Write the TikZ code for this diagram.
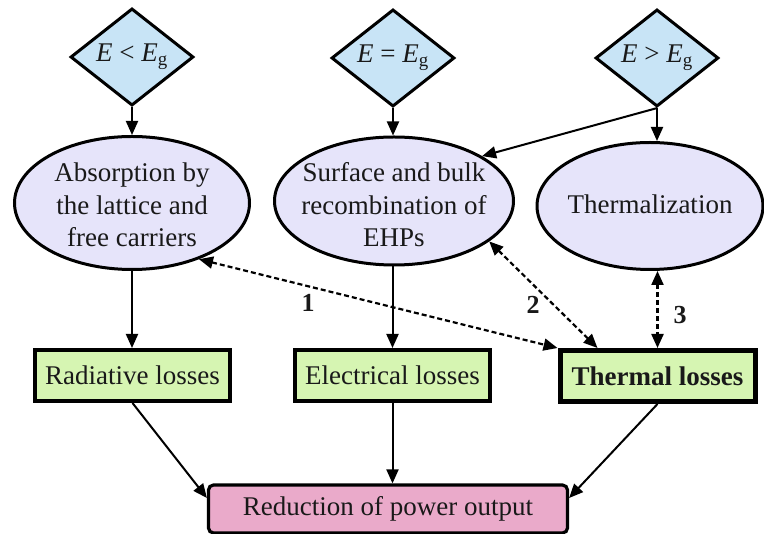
\documentclass[tikz,border=0pt]{standalone}
\usepackage{fontspec}
\setmainfont{Liberation Serif}
\usetikzlibrary{shapes.geometric,arrows.meta,calc}
\definecolor{dfill}{RGB}{200,228,246}
\definecolor{efill}{RGB}{230,228,250}
\definecolor{bfill}{RGB}{214,245,178}
\definecolor{rfill}{RGB}{234,170,202}
\definecolor{txt}{RGB}{25,25,25}
\begin{document}
\begin{tikzpicture}[x=1pt,y=-1pt,
  font=\fontsize{27pt}{32.5pt}\selectfont, text=txt,
  dia/.style={diamond, draw, line width=3pt, fill=dfill, minimum width=123pt, minimum height=87pt, inner sep=0pt},
  ell/.style={ellipse, draw, line width=3pt, fill=efill, inner sep=0pt},
  etext/.style={align=center, inner sep=0pt},
  box/.style={rectangle, draw, line width=4pt, fill=bfill, minimum width=195pt, minimum height=51pt, inner sep=0pt},
  redbox/.style={rectangle, draw, line width=3.2pt, rounded corners=5pt, fill=rfill, minimum width=359pt, minimum height=48pt, inner sep=0pt},
  arr/.style={-{Triangle[length=14pt,width=12pt]}, line width=2pt},
  darr/.style={{Triangle[length=14pt,width=12pt]}-{Triangle[length=14pt,width=12pt]}, line width=2.2pt, dash pattern=on 5pt off 3pt},
  num/.style={font=\fontsize{26pt}{26pt}\selectfont\bfseries}]
\useasboundingbox (0,0) rectangle (764,534);
% diamonds
\node[dia] (d1) at (132,57) {\textit{E} < \textit{E}\textsubscript{g}};
\node[dia] (d2) at (393,58) {\textit{E} = \textit{E}\textsubscript{g}};
\node[dia] (d3) at (657,58) {\textit{E} > \textit{E}\textsubscript{g}};
% ellipses
\node[ell, minimum width=235pt, minimum height=133pt] (e1) at (132,203) {};
\node[etext] (t1) at (132,205) {Absorption by\\the lattice and\\free carriers};
\node[ell, minimum width=239pt, minimum height=128pt] (e2) at (394,201) {};
\node[etext] (t2) at (394,205) {Surface and bulk\\recombination of\\EHPs};
\node[ell, minimum width=226pt, minimum height=127pt] (e3) at (650,206) {};
\node[etext] (t3) at (650,204) {Thermalization};
% boxes
\node[box] (rad) at (132.5,375.5) {Radiative losses};
\node[box] (ele) at (392.5,375.5) {Electrical losses};
\node[box, line width=5pt] (the) at (657.5,376) {\bfseries Thermal losses};
\node[redbox] (red) at (388,509) {Reduction of power output};
% solid arrows
\draw[arr] (d1.south) -- (e1.north);
\draw[arr] (d2.south) -- (d2.south |- e2.north);
\draw[arr] (d3.south) -- (d3.south |- e3.north);
\draw[arr] (d3.south) -- (e2.27);
\draw[arr] (e1.south) -- (e1.south |- rad.north);
\draw[arr] (ele.north |- e2.south) -- (ele.north);
\draw[arr] (rad.south) -- ([yshift=11pt]red.west);
\draw[arr] (ele.south) -- (ele.south |- red.north);
\draw[arr] (the.south) -- ([yshift=11pt]red.east);
% dashed double arrows
\draw[darr] (e1.-40) -- (the.north west);
\draw[darr] (e2.-23) -- ([xshift=-60pt]the.north);
\draw[darr] (the.north |- e3.south) -- (the.north);
% numbers
\node[num] (n1) at (308,303) {1};
\node[num] (n2) at (533,305) {2};
\node[num] (n3) at (680,315) {3};
\end{tikzpicture}
\end{document}
